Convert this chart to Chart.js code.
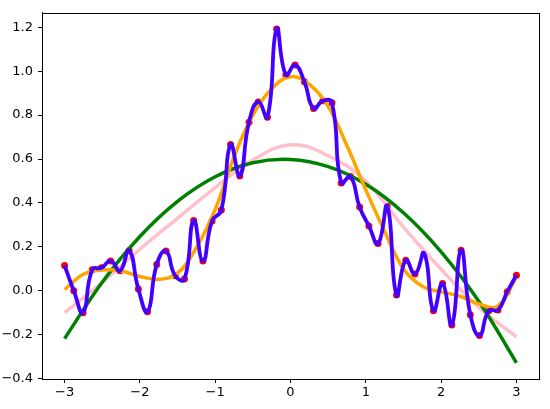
<!DOCTYPE html>
<html>
<head>
<meta charset="utf-8">
<script src="https://cdn.jsdelivr.net/npm/chart.js@4"></script>
<style>
  html, body { margin: 0; padding: 0; background: #fff; }
  #wrap { width: 550px; height: 409px; }
</style>
</head>
<body>
<div id="wrap"><canvas id="fitChart"></canvas></div>
<script>
// noisy samples (x = -3..3, 50 points)
const sampleX = [-3.000, -2.878, -2.755, -2.633, -2.510, -2.388, -2.265, -2.143, -2.020, -1.898,
                 -1.776, -1.653, -1.531, -1.408, -1.286, -1.163, -1.041, -0.918, -0.796, -0.673,
                 -0.551, -0.429, -0.306, -0.184, -0.061, 0.061, 0.184, 0.306, 0.429, 0.551,
                 0.673, 0.796, 0.918, 1.041, 1.163, 1.286, 1.408, 1.531, 1.653, 1.776,
                 1.898, 2.020, 2.143, 2.265, 2.388, 2.510, 2.633, 2.755, 2.878, 3.000];
const sampleY = [0.115, 0.000, -0.100, 0.096, 0.105, 0.136, 0.091, 0.183, 0.008, -0.096,
                 0.120, 0.181, 0.068, 0.053, 0.320, 0.135, 0.318, 0.368, 0.666, 0.523,
                 0.768, 0.860, 0.790, 1.192, 0.983, 1.028, 0.952, 0.830, 0.865, 0.856,
                 0.491, 0.520, 0.381, 0.295, 0.215, 0.385, -0.019, 0.139, 0.076, 0.170,
                 -0.091, 0.033, -0.156, 0.185, -0.109, -0.204, -0.091, -0.088, -0.005, 0.071];

// fitted curves
const fitX = [-3, -2.5, -2, -1.5, -1, -0.5, 0, 0.5, 1, 1.5, 2, 2.5, 3];
const greenY = [-0.218, 0.039, 0.247, 0.407, 0.519, 0.583, 0.598, 0.565, 0.485, 0.355, 0.177, -0.048, -0.328];
const pinkY = [-0.100, 0.038, 0.189, 0.330, 0.470, 0.595, 0.665, 0.615, 0.499, 0.290, 0.098, -0.076, -0.210];
const orangeX = [-3, -2.75, -2.5, -2.25, -2, -1.75, -1.5, -1.25, -1, -0.75, -0.5, -0.25, 0,
                 0.25, 0.5, 0.75, 1, 1.25, 1.5, 1.75, 2, 2.25, 2.5, 2.75, 3];
const orangeY = [0.005, 0.075, 0.095, 0.090, 0.065, 0.052, 0.080, 0.196, 0.370, 0.610, 0.800, 0.920, 0.975,
                 0.940, 0.840, 0.660, 0.460, 0.270, 0.100, 0.020, -0.005, -0.025, -0.060, -0.070, 0.060];

const xTicks = [-3, -2, -1, 0, 1, 2, 3];
const yTicks = [-0.4, -0.2, 0.0, 0.2, 0.4, 0.6, 0.8, 1.0, 1.2];

function pts(xs, ys) {
    return xs.map((x, i) => ({ x: x, y: ys[i] }));
}

const frame = {
    id: 'frame',
    afterDraw(chart) {
        const a = chart.chartArea;
        const c = chart.ctx;
        c.save();
        c.strokeStyle = '#000';
        c.lineWidth = 1;
        c.strokeRect(Math.round(a.left) + 0.5, Math.round(a.top) + 0.5,
                     Math.round(a.right - a.left), Math.round(a.bottom - a.top));
        c.restore();
    }
};

const fontSpec = { family: 'DejaVu Sans', size: 13 };

const ctx = document.getElementById('fitChart').getContext('2d');
const fitChart = new Chart(ctx, {
    type: 'line',
    data: {
        datasets: [
            {
                label: 'samples',
                data: pts(sampleX, sampleY),
                showLine: false,
                pointRadius: 3.5,
                pointBackgroundColor: '#ff0000',
                pointBorderWidth: 0,
                order: 5
            },
            {
                label: 'deg 2',
                data: pts(fitX, greenY),
                borderColor: '#008000',
                borderWidth: 3.5,
                pointRadius: 0,
                tension: 0.4,
                order: 3
            },
            {
                label: 'deg 4',
                data: pts(fitX, pinkY),
                borderColor: '#ffc0cb',
                borderWidth: 3.5,
                pointRadius: 0,
                tension: 0.4,
                order: 4
            },
            {
                label: 'deg high',
                data: pts(orangeX, orangeY),
                borderColor: '#ffa500',
                borderWidth: 3.5,
                pointRadius: 0,
                tension: 0.4,
                order: 2
            },
            {
                label: 'spline',
                data: pts(sampleX, sampleY),
                borderColor: '#4400ff',
                borderWidth: 3.8,
                pointRadius: 0,
                tension: 0.5,
                order: 1
            }
        ]
    },
    options: {
        responsive: true,
        maintainAspectRatio: false,
        animation: false,
        layout: { padding: { left: 0, right: 11, top: 11, bottom: 0 } },
        scales: {
            x: {
                type: 'linear',
                min: -3.3,
                max: 3.3,
                afterBuildTicks: (scale) => { scale.ticks = xTicks.map(v => ({ value: v })); },
                afterFit: (scale) => { scale.height = 30; },
                grid: { drawOnChartArea: false, drawTicks: true, tickLength: 4, color: '#000' },
                border: { display: true, color: '#000', width: 1 },
                ticks: {
                    color: '#000',
                    font: fontSpec,
                    padding: 2,
                    maxRotation: 0,
                    callback: (v) => (v < 0 ? '\u2212' + Math.abs(v) : String(v))
                }
            },
            y: {
                type: 'linear',
                min: -0.402,
                max: 1.266,
                afterBuildTicks: (scale) => { scale.ticks = yTicks.map(v => ({ value: v })); },
                afterFit: (scale) => { scale.width = 42; },
                grid: { drawOnChartArea: false, drawTicks: true, tickLength: 4, color: '#000' },
                border: { display: true, color: '#000', width: 1 },
                ticks: {
                    color: '#000',
                    font: fontSpec,
                    padding: 5,
                    callback: (v) => (v < 0 ? '\u2212' + Math.abs(v).toFixed(1) : v.toFixed(1))
                }
            }
        },
        plugins: {
            legend: { display: false },
            tooltip: { enabled: false }
        }
    },
    plugins: [frame]
});
</script>
</body>
</html>
